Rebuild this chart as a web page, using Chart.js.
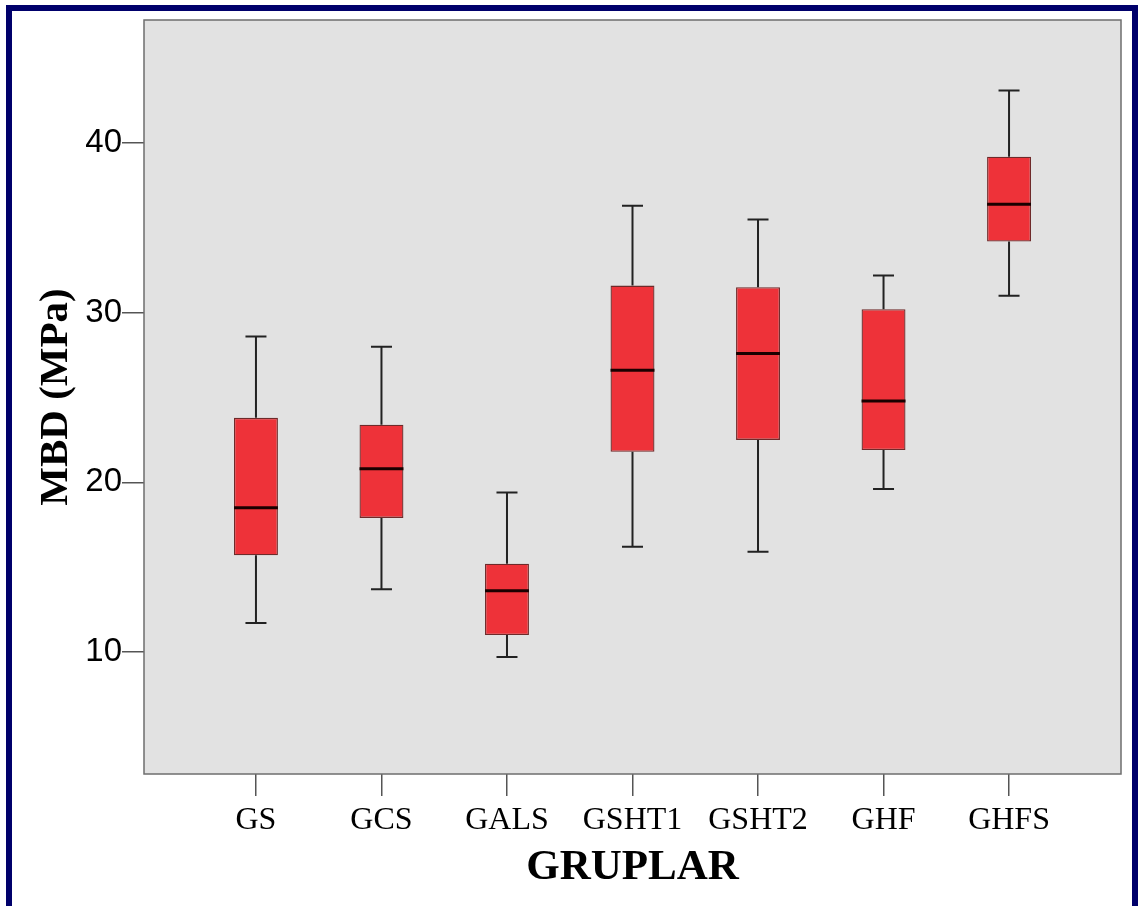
<!DOCTYPE html>
<html>
<head>
<meta charset="utf-8">
<script src="https://cdn.jsdelivr.net/npm/chart.js@4.4.0/dist/chart.umd.min.js"></script>
<style>
  html, body { margin: 0; padding: 0; background: #fff; }
  #marco {
    position: absolute; left: 6px; top: 5px;
    width: 1120px; height: 895px;
    border: 6px solid #00006b; border-bottom: none;
    background: #fff;
  }
  #grafico { display: block; }
</style>
</head>
<body>
<div id="marco"><canvas id="grafico" width="1120" height="895"></canvas></div>
<script>
// Datos del diagrama de cajas
const grupos = ['GS', 'GCS', 'GALS', 'GSHT1', 'GSHT2', 'GHF', 'GHFS'];
const minimos = [11.7, 13.7, 9.7, 16.2, 15.9, 19.6, 31.0];
const q1 = [15.7, 17.9, 11.0, 21.8, 22.5, 21.9, 34.2];
const medianas = [18.5, 20.8, 13.6, 26.6, 27.6, 24.8, 36.4];
const q3 = [23.8, 23.4, 15.2, 31.6, 31.5, 30.2, 39.2];
const maximos = [28.6, 28.0, 19.4, 36.3, 35.5, 32.2, 43.1];
const ticksY = [10, 20, 30, 40];

const cajas = grupos.map((g, i) => ({ x: i, y: [q1[i], q3[i]] }));

// Fondo gris y marco del area de dibujo
const fondoPlugin = {
  id: 'fondo',
  beforeDraw(chart) {
    const { ctx, chartArea: a } = chart;
    ctx.save();
    ctx.fillStyle = '#e2e2e2';
    ctx.fillRect(a.left, a.top, a.right - a.left, a.bottom - a.top);
    ctx.restore();
  },
  afterDraw(chart) {
    const { ctx, chartArea: a } = chart;
    ctx.save();
    ctx.strokeStyle = '#6e6e6e';
    ctx.lineWidth = 1.5;
    ctx.strokeRect(a.left, a.top, a.right - a.left, a.bottom - a.top);
    ctx.restore();
  }
};

// Bigotes y medianas
const bigotesPlugin = {
  id: 'bigotes',
  beforeDatasetsDraw(chart) {
    const { ctx, scales: { x, y } } = chart;
    ctx.save();
    ctx.strokeStyle = '#222';
    ctx.lineWidth = 2;
    grupos.forEach((g, i) => {
      const px = x.getPixelForValue(i);
      const cap = 10.5;
      ctx.beginPath();
      ctx.moveTo(px, y.getPixelForValue(maximos[i]));
      ctx.lineTo(px, y.getPixelForValue(q3[i]));
      ctx.moveTo(px, y.getPixelForValue(q1[i]));
      ctx.lineTo(px, y.getPixelForValue(minimos[i]));
      ctx.moveTo(px - cap, y.getPixelForValue(maximos[i]));
      ctx.lineTo(px + cap, y.getPixelForValue(maximos[i]));
      ctx.moveTo(px - cap, y.getPixelForValue(minimos[i]));
      ctx.lineTo(px + cap, y.getPixelForValue(minimos[i]));
      ctx.stroke();
    });
    ctx.restore();
  },
  afterDatasetsDraw(chart) {
    const { ctx, scales: { y } } = chart;
    const meta = chart.getDatasetMeta(0);
    ctx.save();
    ctx.strokeStyle = '#1a0000';
    ctx.lineWidth = 3;
    meta.data.forEach((bar, i) => {
      const py = y.getPixelForValue(medianas[i]);
      ctx.beginPath();
      ctx.moveTo(bar.x - bar.width / 2, py);
      ctx.lineTo(bar.x + bar.width / 2, py);
      ctx.stroke();
    });
    ctx.restore();
  }
};

const ctx = document.getElementById('grafico').getContext('2d');
new Chart(ctx, {
  type: 'bar',
  data: {
    datasets: [{
      data: cajas,
      backgroundColor: '#ee3239',
      borderColor: '#6e2a2a',
      borderWidth: 1.3,
      borderSkipped: false,
      barPercentage: 0.35,
      categoryPercentage: 1
    }]
  },
  options: {
    responsive: false,
    animation: false,
    layout: { padding: { top: 9, right: 11, left: 0, bottom: 0 } },
    plugins: { legend: { display: false }, tooltip: { enabled: false } },
    scales: {
      x: {
        type: 'linear',
        offset: false,
        min: -0.892,
        max: 6.892,
        afterBuildTicks: (s) => { s.ticks = grupos.map((g, i) => ({ value: i })); },
        afterFit: (s) => { s.height = 132; s.paddingLeft = 0; s.paddingRight = 0; },
        ticks: {
          callback: (v) => grupos[v],
          color: '#000',
          padding: 5,
          maxRotation: 0,
          autoSkip: false,
          font: { family: '"Liberation Serif", "Times New Roman", serif', size: 32 }
        },
        grid: { offset: false, drawOnChartArea: false, drawTicks: true, tickLength: 22, color: '#555', lineWidth: 1.5 },
        border: { display: false },
        title: {
          display: true,
          text: 'GRUPLAR',
          color: '#000',
          padding: { top: 0, bottom: 12 },
          font: { family: '"Liberation Serif", "Times New Roman", serif', size: 43, weight: 'bold' }
        }
      },
      y: {
        min: 2.8,
        max: 47.26,
        afterBuildTicks: (s) => { s.ticks = ticksY.map(v => ({ value: v })); },
        afterFit: (s) => { s.width = 132; s.paddingTop = 0; s.paddingBottom = 0; },
        ticks: {
          color: '#000',
          padding: 0,
          font: { family: '"Liberation Sans", Arial, sans-serif', size: 33 }
        },
        grid: { drawOnChartArea: false, drawTicks: true, tickLength: 22, color: '#555', lineWidth: 1.5 },
        border: { display: false },
        title: {
          display: true,
          text: 'MBD (MPa)',
          color: '#000',
          padding: { top: 20, bottom: 0 },
          font: { family: '"Liberation Serif", "Times New Roman", serif', size: 41, weight: 'bold' }
        }
      }
    }
  },
  plugins: [fondoPlugin, bigotesPlugin]
});
</script>
</body>
</html>
